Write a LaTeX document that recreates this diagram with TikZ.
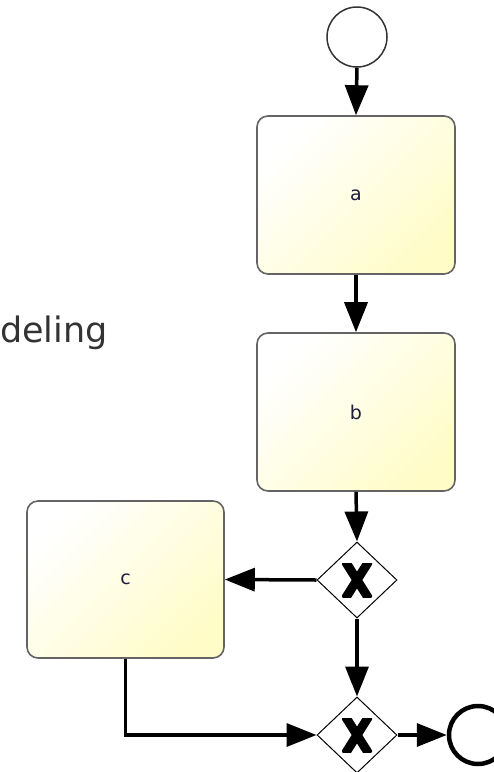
\documentclass[tikz,border=0pt]{standalone}
\usepackage{fontspec}
\setmainfont{DejaVu Sans}
\newfontfamily\labelfont{DejaVu Sans}
\usetikzlibrary{arrows.meta,shapes.geometric,calc}
\definecolor{taskyellow}{RGB}{255,252,200}
\definecolor{taskborder}{RGB}{100,100,100}
\definecolor{titlegray}{RGB}{51,51,51}
\definecolor{labelblue}{RGB}{30,30,60}
\tikzset{
  task/.style={rectangle, rounded corners=11pt, minimum width=198pt, minimum height=158pt,
    draw=taskborder, line width=1.6pt, top color=white, bottom color=taskyellow, shading angle=45,
    font=\labelfont\fontsize{19pt}{22pt}\selectfont, text=labelblue, inner sep=0pt},
  gateway/.style={diamond, draw=black, line width=1pt, fill=white, minimum width=80pt, minimum height=76pt, inner sep=0pt, aspect=1.05},
  xmark/.style={line width=9pt, black},
  startev/.style={circle, draw=black!80, line width=1.5pt, fill=white, minimum size=60pt, inner sep=0pt},
  endev/.style={circle, draw=black, line width=4.5pt, fill=white, minimum size=58pt, inner sep=0pt},
  flow/.style={line width=3.5pt, -{Triangle[length=30pt,width=23pt]}},
}
\begin{document}
\begin{tikzpicture}[x=1pt,y=-1pt]
\useasboundingbox (0,0) rectangle (494,772);
\begin{scope}
\clip (0,0) rectangle (494,772);
\node[anchor=base west, text=titlegray, font=\fontsize{35pt}{40pt}\selectfont, inner sep=0pt] (title) at (0,342) {deling};
\node[startev] (start) at (357,37) {};
\node[task] (a) at (356,195) {a};
\node[task] (b) at (356,412) {b};
\node[gateway] (g1) at (357,580) {};
\node[task, minimum width=197pt, minimum height=157pt] (c) at (125.5,579.5) {c};
\node[gateway] (g2) at (357,735) {};
\node[endev] (end) at (478,735) {};
\coordinate (bend) at (125.5,735);
\foreach \g in {g1,g2}{
  \begin{scope}
  \clip ($(\g)+(-15,-17)$) rectangle ($(\g)+(15,17)$);
  \draw[xmark] ($(\g)+(-12,-19)$) -- ($(\g)+(12,19)$);
  \draw[xmark] ($(\g)+(12,-19)$) -- ($(\g)+(-12,19)$);
  \end{scope}
}
\draw[flow] (start.south) -- (a.north);
\draw[flow] (a.south) -- (b.north);
\draw[flow] (b.south) -- (g1.north);
\draw[flow] (g1.west) -- (c.east);
\draw[flow] (g1.south) -- (g2.north);
\draw[flow] (c.south) -- (bend) -- (g2.west);
\draw[flow] (g2.east) -- (end.west);
\end{scope}
\end{tikzpicture}
\end{document}
